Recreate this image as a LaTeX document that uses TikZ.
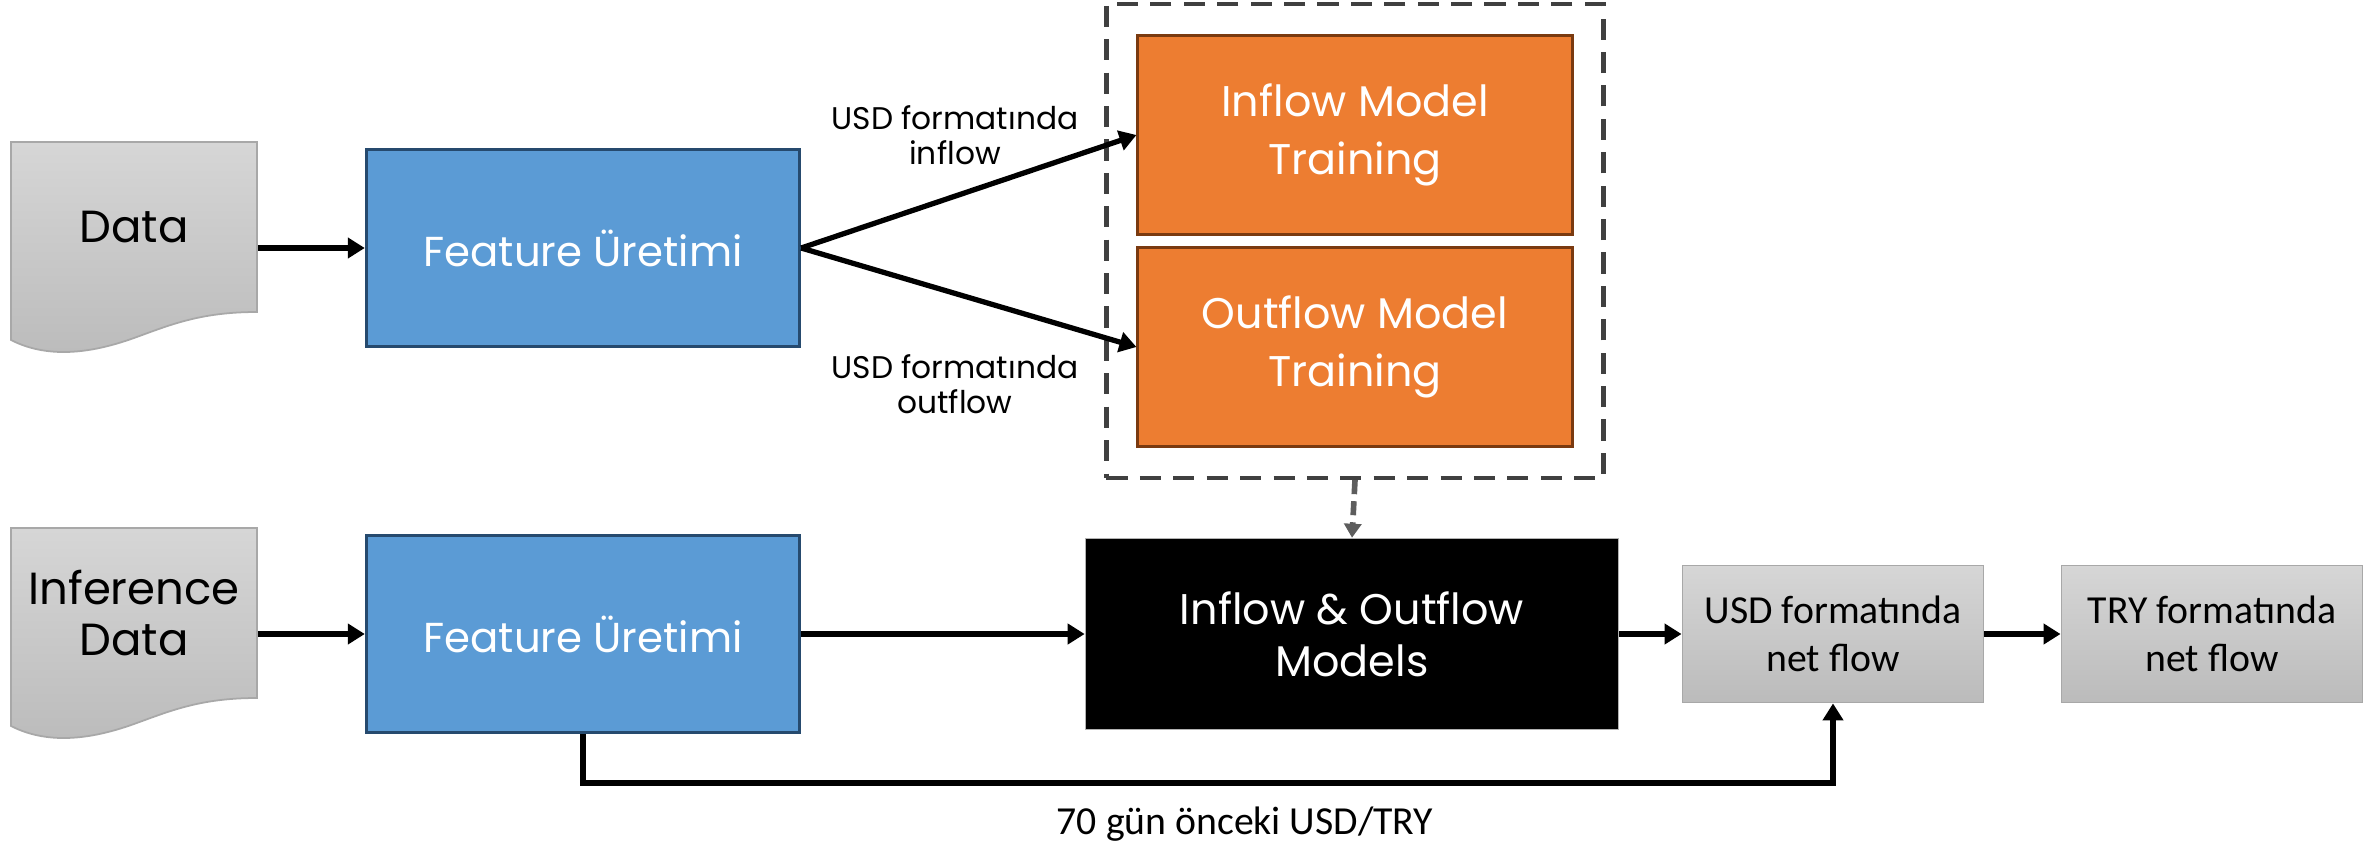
\documentclass[tikz,border=0pt]{standalone}
\usepackage{fontspec}
\setmainfont{Poppins}
\newfontfamily\narrowfont{Carlito}
\usetikzlibrary{arrows.meta, positioning, fit, shapes}
\definecolor{featblue}{HTML}{5B9BD5}
\definecolor{featedge}{HTML}{264A6E}
\definecolor{trainorange}{HTML}{ED7D31}
\definecolor{trainedge}{HTML}{7A3A10}
\definecolor{graytop}{HTML}{D6D6D6}
\definecolor{graybot}{HTML}{BBBBBB}
\definecolor{grayedge}{HTML}{A8A8A8}
\definecolor{dashgray}{HTML}{404040}

\begin{document}
\begin{tikzpicture}[x=0.01cm, y=-0.01cm,
  box/.style={shape=rectangle, inner sep=0pt, align=center},
  featbox/.style={box, minimum width=4.33cm, minimum height=1.97cm, fill=featblue, draw=featedge, line width=0.9pt, text=white, font=\fontsize{11.9}{15}\selectfont},
  trainbox/.style={box, minimum width=4.34cm, minimum height=1.99cm, fill=trainorange, draw=trainedge, line width=0.8pt, text=white, font=\fontsize{12.2}{16.3}\selectfont},
  flowbox/.style={box, minimum width=3.01cm, minimum height=1.37cm, top color=graytop, bottom color=graybot, draw=grayedge, line width=0.5pt, font=\narrowfont\fontsize{11.3}{13.5}\selectfont},
  docshape/.style={top color=graytop, bottom color=graybot, draw=grayedge, line width=0.5pt},
  doctext/.style={box, font=\fontsize{12.8}{14.5}\selectfont},
  arr/.style={line width=1.5pt, -{Triangle[length=0.17cm, width=0.2cm]}},
  note/.style={align=center, font=\fontsize{8.9}{10}\selectfont}]
\useasboundingbox (0,0) rectangle (2366,842);

% document shapes
\foreach \y in {0,386}{
  \draw[docshape] (11,142+\y) -- (257,142+\y) -- (257,312+\y)
    .. controls (200,312+\y) and (170,325+\y) .. (134,338+\y)
    .. controls (95,352+\y) and (50,360+\y) .. (11,340+\y) -- cycle;
}
\node[doctext, minimum width=2.46cm, minimum height=1.70cm] (data) at (134,227) {Data};
\node[doctext, minimum width=2.46cm, minimum height=1.70cm] (infdata) at (134,613) {Inference\\Data};

% training row
\node[featbox] (feat1) at (583,248) {Feature Üretimi};
\node[trainbox] (inflow) at (1355,135) {Inflow Model\\Training};
\node[trainbox] (outflow) at (1355,347) {Outflow Model\\Training};
\node[draw=dashgray, dash pattern=on 6pt off 3.5pt, line width=1.2pt, inner sep=0.3cm, fit=(inflow)(outflow)] (train) {};
\node[note] (inlbl) at (955,135) {USD formatında\\inflow};
\node[note] (outlbl) at (955,384) {USD formatında\\outflow};

% inference row
\node[featbox] (feat2) at (583,634) {Feature Üretimi};
\node[box, minimum width=5.33cm, minimum height=1.91cm, fill=black, draw=gray!60, line width=0.4pt, text=white, font=\fontsize{12.2}{14.8}\selectfont] (models) at (1352,634) {Inflow \& Outflow\\Models};
\node[flowbox] (usdnet) at (1833,634) {USD formatında\\net flow};
\node[flowbox] (trynet) at (2212,634) {TRY formatında\\net flow};
\node[font=\narrowfont\fontsize{11.3}{13}\selectfont] (lag) at (1245,824) {70 gün önceki USD/TRY};

\draw[arr] (data.east |- feat1) -- (feat1);
\draw[arr] (feat1.east) -- (inflow.west);
\draw[arr] (feat1.east) -- (outflow.west);
\draw[dashgray!85, line width=1.6pt, dash pattern=on 4pt off 2pt, -{Triangle[length=0.14cm, width=0.17cm]}] (train.south) -- (models.north);
\draw[arr] (infdata.east |- feat2) -- (feat2);
\draw[arr] (feat2) -- (models);
\draw[arr] (models) -- (usdnet);
\draw[arr] (usdnet) -- (trynet);
\draw[arr, line width=1.8pt] (feat2.south) -- ++(0,49) -| (usdnet.south);
\end{tikzpicture}
\end{document}
